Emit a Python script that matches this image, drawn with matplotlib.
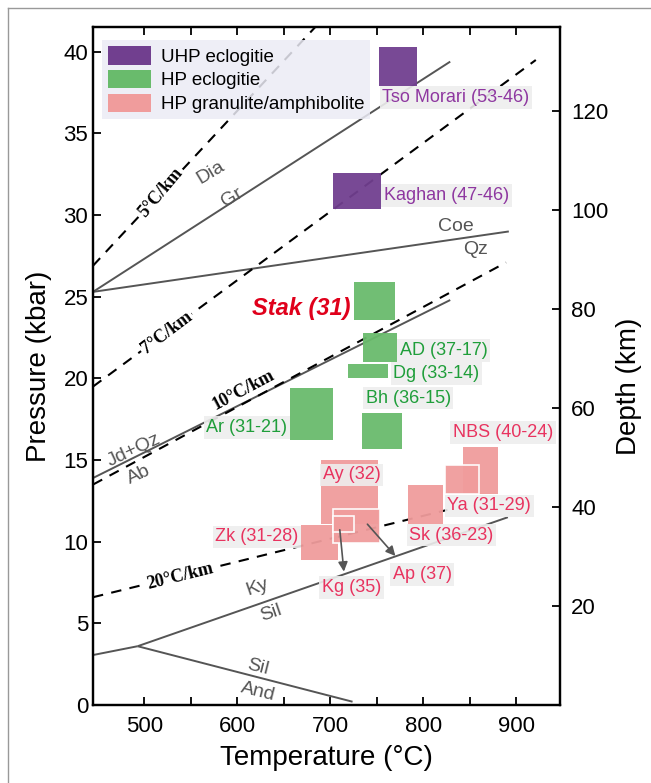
import matplotlib
matplotlib.use("Agg")
import matplotlib.pyplot as plt
from matplotlib.patches import Rectangle, Patch
from matplotlib.lines import Line2D

plt.rcParams['font.family'] = ['Liberation Sans', 'DejaVu Sans']

# ---------------- data ----------------
# UHP eclogite fields (T min, T max, P min, P max)
uhp_names = ['Tso Morari (53-46)', 'Kaghan (47-46)']
uhp_tmin = [752, 703]
uhp_tmax = [793, 755]
uhp_pmin = [37.9, 30.4]
uhp_pmax = [40.3, 32.6]

# HP eclogite fields
hpe_names = ['Stak (31)', 'AD (37-17)', 'Dg (33-14)', 'Ar (31-21)', 'Bh (36-15)']
hpe_tmin = [726, 735, 719, 657, 734]
hpe_tmax = [770, 772, 762, 703, 777]
hpe_pmin = [23.6, 21.0, 20.0, 16.2, 15.7]
hpe_pmax = [25.9, 22.8, 20.9, 19.4, 17.9]

# HP granulite / amphibolite fields
hpg_names = ['NBS (40-24)', 'Ay (32)', 'Sk (36-23)', 'Zk (31-28)', 'Ya (31-29)', 'Ap (37)', 'Kg (35)']
hpg_tmin = [843, 690, 784, 669, 823, 703, 703]
hpg_tmax = [880, 751, 821, 708, 860, 753, 726]
hpg_pmin = [12.9, 11.1, 11.1, 8.9, 12.9, 9.9, 10.6]
hpg_pmax = [15.8, 15.0, 13.5, 11.0, 14.7, 12.0, 11.6]
hpg_white_edge = [False, False, False, False, True, True, True]

# reaction curves (T, P)
dia_gr_T = [445, 829]
dia_gr_P = [25.3, 39.4]
coe_qz_T = [445, 892]
coe_qz_P = [25.3, 29.0]
jd_ab_T = [445, 829]
jd_ab_P = [13.9, 24.8]
ky_and_T = [445, 493]
ky_and_P = [3.06, 3.6]
ky_sil_T = [493, 891]
ky_sil_P = [3.6, 11.5]
sil_and_T = [493, 724]
sil_and_P = [3.6, 0.2]

# geotherms (T, P)
g5_T = [445, 700]
g5_P = [26.9, 42.5]
g7_T = [445, 921]
g7_P = [19.5, 39.5]
g10_T = [445, 889]
g10_P = [13.5, 27.1]
g20_T = [445, 826]
g20_P = [6.6, 11.95]

x_ticks = [500, 600, 700, 800, 900]
y_ticks = [0, 5, 10, 15, 20, 25, 30, 35, 40]
depth_ticks = [20, 40, 60, 80, 100, 120]
km_per_kbar = 3.3

# ---------------- style ----------------
c_uhp = '#713f8f'
c_hpe = '#69bb6c'
c_hpg = '#f09c9c'
t_uhp = '#8e37a0'
t_hpe = '#1f9e3a'
t_hpg = '#e8335f'
c_line = '#555555'
lab_bg = dict(boxstyle='square,pad=0.15', fc='#eeeeee', ec='none', alpha=0.9)

fig = plt.figure(figsize=(6.51, 7.83), dpi=100)
ax = fig.add_axes([93/651, 1-705/783, (560-93)/651, (705-27)/783])
ax.set_xlim(445, 947)
ax.set_ylim(0, 41.52)

# reaction lines
for T, P in [(dia_gr_T, dia_gr_P), (coe_qz_T, coe_qz_P), (jd_ab_T, jd_ab_P),
             (ky_and_T, ky_and_P), (ky_sil_T, ky_sil_P), (sil_and_T, sil_and_P)]:
    ax.plot(T, P, color=c_line, lw=1.4, solid_capstyle='butt', zorder=2)

# geotherms
for T, P in [(g5_T, g5_P), (g7_T, g7_P), (g10_T, g10_P), (g20_T, g20_P)]:
    ax.plot(T, P, color='black', lw=1.5, ls=(0, (5, 4)), zorder=2)

def rects(tmin, tmax, pmin, pmax, color, edges=None):
    for i in range(len(tmin)):
        white = edges[i] if edges is not None else False
        ax.add_patch(Rectangle((tmin[i], pmin[i]), tmax[i]-tmin[i], pmax[i]-pmin[i],
                               fc=color, ec='white' if white else 'none',
                               lw=1.2 if white else 0, alpha=0.95, zorder=3))

rects(uhp_tmin, uhp_tmax, uhp_pmin, uhp_pmax, c_uhp)
rects(hpe_tmin, hpe_tmax, hpe_pmin, hpe_pmax, c_hpe)
rects(hpg_tmin, hpg_tmax, hpg_pmin, hpg_pmax, c_hpg, hpg_white_edge)

# sample labels (position: T, P, horizontal alignment)
lab_pos = {
    'Tso Morari (53-46)': (756, 37.2, 'left'),
    'Kaghan (47-46)': (758, 31.2, 'left'),
    'AD (37-17)': (775, 21.7, 'left'),
    'Dg (33-14)': (768, 20.3, 'left'),
    'Bh (36-15)': (738, 18.8, 'left'),
    'Ar (31-21)': (654, 17.0, 'right'),
    'NBS (40-24)': (832, 16.7, 'left'),
    'Ay (32)': (692, 14.1, 'left'),
    'Ya (31-29)': (826, 12.2, 'left'),
    'Sk (36-23)': (785, 10.4, 'left'),
    'Zk (31-28)': (666, 10.3, 'right'),
    'Ap (37)': (767, 8.0, 'left'),
    'Kg (35)': (691, 7.2, 'left'),
}
for names, col in [(uhp_names, t_uhp), (hpe_names[1:], t_hpe), (hpg_names, t_hpg)]:
    for n in names:
        x, y, ha = lab_pos[n]
        ax.text(x, y, n, color=col, fontsize=13, ha=ha, va='center', bbox=lab_bg, zorder=5)

ax.text(722, 24.3, hpe_names[0], color='#e0001b', fontsize=17, fontweight='bold',
        fontstyle='italic', ha='right', va='center', zorder=5)

# arrows
ax.annotate('', xy=(715, 8.0), xytext=(710, 10.9),
            arrowprops=dict(arrowstyle='-|>', color=c_line, lw=1.2, mutation_scale=14), zorder=6)
ax.annotate('', xy=(772, 9.0), xytext=(738, 11.2),
            arrowprops=dict(arrowstyle='-|>', color=c_line, lw=1.2, mutation_scale=14), zorder=6)

# reaction labels
mlab = dict(color=c_line, fontsize=14, ha='center', va='center', zorder=4)
ax.text(572, 32.6, 'Dia', rotation=31, **mlab)
ax.text(595, 31.1, 'Gr', rotation=31, **mlab)
ax.text(835, 29.3, 'Coe', rotation=0, **mlab)
ax.text(856, 27.9, 'Qz', rotation=0, **mlab)
ax.text(489, 15.6, 'Jd+Qz', rotation=25, **mlab)
ax.text(494, 14.1, 'Ab', rotation=25, **mlab)
ax.text(622, 7.2, 'Ky', rotation=19, **mlab)
ax.text(636, 5.6, 'Sil', rotation=19, **mlab)
ax.text(622, 2.3, 'Sil', rotation=-14, **mlab)
ax.text(622, 0.8, 'And', rotation=-14, **mlab)

# geotherm labels
glab = dict(color='black', fontsize=13, fontweight='bold', family=['Liberation Serif'],
            ha='center', va='center', zorder=4, rotation_mode='anchor')
wbg = dict(boxstyle='square,pad=0.1', fc='white', ec='none')
ax.text(518, 31.4, '5°C/km', rotation=50, bbox=wbg, **glab)
ax.text(524, 22.8, '7°C/km', rotation=37, bbox=wbg, **glab)
ax.text(607, 19.3, '10°C/km', rotation=28, **glab)
ax.text(539, 7.85, '20°C/km', rotation=14, bbox=wbg, **glab)

# legend
handles = [Patch(fc=c_uhp, ec='none'), Patch(fc=c_hpe, ec='none'), Patch(fc=c_hpg, ec='none')]
leg = ax.legend(handles, ['UHP eclogitie', 'HP eclogitie', 'HP granulite/amphibolite'],
                loc='upper left', bbox_to_anchor=(455, 40.7), bbox_transform=ax.transData,
                fontsize=13.5, frameon=True, fancybox=False, framealpha=0.85,
                facecolor='#ebebf5', edgecolor='none', borderaxespad=0, borderpad=0.3,
                handlelength=2.3, handleheight=1.15, handletextpad=0.55, labelspacing=0.22)
leg.set_zorder(7)

# axes styling
ax.set_xticks(x_ticks)
ax.set_xticks([550, 650, 750, 850], minor=True)
ax.set_yticks(y_ticks)
ax.tick_params(axis='both', which='both', direction='in', length=6, width=1.3,
               labelsize=16, top=True, colors='black')
ax.tick_params(axis='x', pad=8)
for s in ax.spines.values():
    s.set_linewidth(1.6)
ax.set_xlabel('Temperature (°C)', fontsize=20, labelpad=6)
ax.set_ylabel('Pressure (kbar)', fontsize=20, labelpad=8)

ax2 = ax.twinx()
ax2.set_ylim(0, 41.52 * km_per_kbar)
ax2.set_yticks(depth_ticks)
ax2.tick_params(axis='y', direction='in', length=6, width=1.3, labelsize=16, pad=8)
ax2.set_ylabel('Depth (km)', fontsize=20)
ax2.yaxis.set_label_coords(1.12, 0.47)
for s in ax2.spines.values():
    s.set_linewidth(1.6)

# light frame lines of the original figure
fig.add_artist(Line2D([8/651, 8/651], [0, 1-8/783], transform=fig.transFigure, color='#999999', lw=1))
fig.add_artist(Line2D([8/651, 1], [1-8/783, 1-8/783], transform=fig.transFigure, color='#999999', lw=1))

fig.savefig('out.png', dpi=100)
